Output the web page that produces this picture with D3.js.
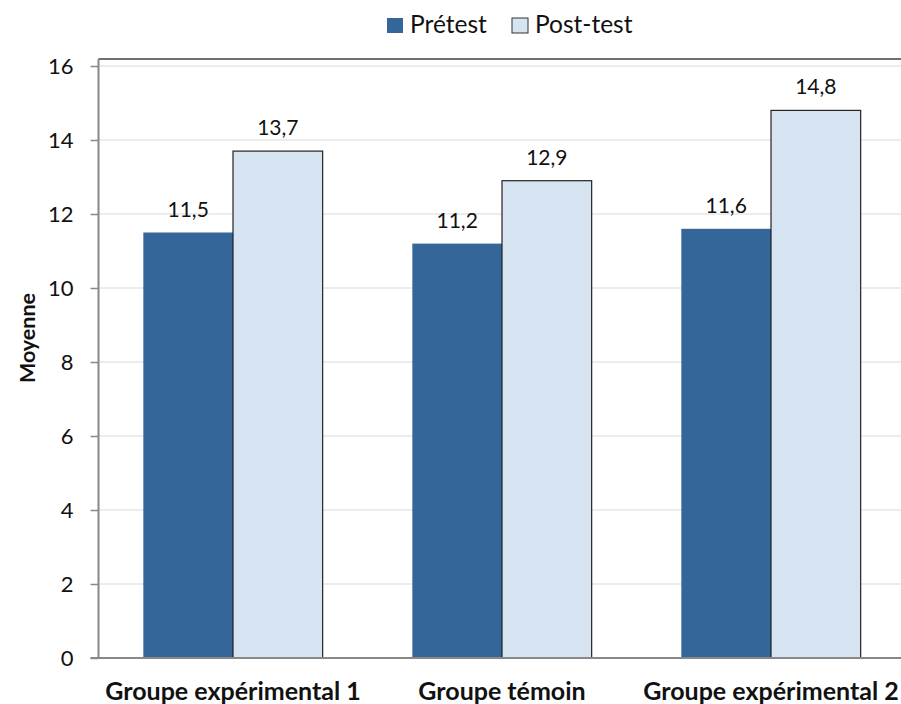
<!DOCTYPE html>
<html><head><meta charset="utf-8">
<script src="https://cdn.jsdelivr.net/npm/d3@7"></script>
<style>body{margin:0;background:#fff}svg{display:block}</style>
</head><body>
<svg id="c" width="901" height="704"></svg>
<script>
const categories = ["Groupe expérimental 1", "Groupe témoin", "Groupe expérimental 2"];
const seriesNames = ["Prétest", "Post-test"];
const pretest = [11.5, 11.2, 11.6];
const posttest = [13.7, 12.9, 14.8];
const yTicks = [0, 2, 4, 6, 8, 10, 12, 14, 16];
const colors = ["#346699", "#D6E3F0"];

const svg = d3.select("#c");
const font = "Lato, 'Open Sans', sans-serif";
const pLeft = 98.5, pRight = 905.5, pTop = 59, pBottom = 658;
const y = d3.scaleLinear().domain([0, 16]).range([pBottom, 66]);
const x = d3.scaleBand().domain(categories).range([pLeft, pRight]).paddingInner(1/3).paddingOuter(1/6);
const xs = d3.scaleBand().domain(seriesNames).range([0, x.bandwidth()]);

// gridlines
svg.append("g").selectAll("line").data(yTicks.filter(d => d > 0)).join("line")
  .attr("x1", pLeft).attr("x2", 901).attr("y1", d => y(d)).attr("y2", d => y(d))
  .attr("stroke", "#d9d9d9").attr("stroke-width", 1);
// top border
svg.append("line").attr("x1", pLeft).attr("x2", 901).attr("y1", pTop).attr("y2", pTop)
  .attr("stroke", "#404040").attr("stroke-width", 1.5);

const data = categories.map((c, i) => ({c, vals: [pretest[i], posttest[i]]}));
const g = svg.append("g").selectAll("g").data(data).join("g")
  .attr("transform", d => `translate(${x(d.c)},0)`);
g.selectAll("rect").data(d => d.vals.map((v, j) => ({v, s: seriesNames[j], j}))).join("rect")
  .attr("x", d => xs(d.s)).attr("width", xs.bandwidth())
  .attr("y", d => y(d.v)).attr("height", d => pBottom - y(d.v))
  .attr("fill", d => colors[d.j])
  .attr("stroke", d => d.j === 1 ? "#222" : "none").attr("stroke-width", 1.2);
g.selectAll("text").data(d => d.vals.map((v, j) => ({v, s: seriesNames[j]}))).join("text")
  .attr("x", d => xs(d.s) + xs.bandwidth() / 2).attr("y", d => y(d.v) - 16)
  .attr("text-anchor", "middle").attr("font-family", font).attr("font-size", 21).attr("fill", "#111")
  .text(d => d3.format(".1f")(d.v).replace(".", ","));

// y axis
const ya = svg.append("g").attr("transform", `translate(${pLeft},0)`)
  .call(d3.axisLeft(y).tickValues(yTicks).tickSize(8).tickPadding(17).tickFormat(d3.format("d")));
ya.select(".domain").remove();
ya.selectAll(".tick line").attr("stroke", "#888").attr("stroke-width", 1.5);
ya.selectAll(".tick text").attr("font-family", font).attr("font-size", 22).attr("fill", "#111");
svg.append("line").attr("x1", pLeft).attr("x2", pLeft).attr("y1", pTop).attr("y2", pBottom)
  .attr("stroke", "#888").attr("stroke-width", 2);
// x axis
svg.append("line").attr("x1", pLeft - 8).attr("x2", 901).attr("y1", pBottom).attr("y2", pBottom)
  .attr("stroke", "#888").attr("stroke-width", 2);
const xa = svg.append("g").attr("transform", `translate(0,${pBottom})`)
  .call(d3.axisBottom(x).tickSize(0).tickPadding(24));
xa.select(".domain").remove();
xa.selectAll(".tick text").attr("dy", null).attr("y", 42).attr("font-family", font).attr("font-size", 25)
  .attr("font-weight", "bold").attr("fill", "#111");

// y title
svg.append("text").attr("transform", "translate(35,338) rotate(-90)")
  .attr("text-anchor", "middle").attr("font-family", font).attr("font-size", 21.5).attr("font-weight", "bold")
  .attr("fill", "#111").text("Moyenne");

// legend
const lg = svg.append("g");
const lx = [387, 512];
seriesNames.forEach((s, i) => {
  lg.append("rect").attr("x", lx[i]).attr("y", 18).attr("width", 16).attr("height", 15)
    .attr("fill", colors[i]).attr("stroke", i === 1 ? "#333" : "none").attr("stroke-width", 1);
  lg.append("text").attr("x", lx[i] + 23).attr("y", 33).attr("font-family", font).attr("font-size", 24.5)
    .attr("fill", "#111").text(s);
});
</script>
</body></html>
